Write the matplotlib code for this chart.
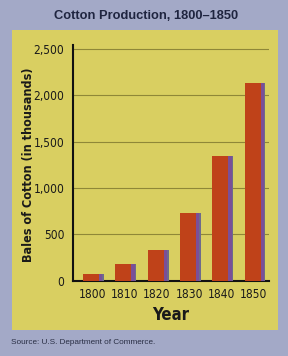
import matplotlib.pyplot as plt
from matplotlib.patches import Rectangle

# Data
years = ["1800", "1810", "1820", "1830", "1840", "1850"]
bales = [73, 178, 335, 732, 1348, 2133]   # thousands of bales
y_ticks = [0, 500, 1000, 1500, 2000, 2500]
y_labels = ["0", "500", "1,000", "1,500", "2,000", "2,500"]

# Colours
page_bg = "#a3a9c7"
panel_bg = "#d9cf61"
bar_red = "#bf4219"
bar_side = "#7a4f98"
bar_edge = "#6e6a8c"
grid_col = "#8f8738"
title_col = "#1f2540"

bold = ["Liberation Sans", "DejaVu Sans"]
cond = dict(family="DejaVu Sans", stretch="condensed", color="#1a1a1a")

fig = plt.figure(figsize=(2.88, 3.56), dpi=100, facecolor=page_bg)

# yellow panel behind the chart
fig.patches.append(Rectangle((12 / 288, 1 - 330 / 356), 266 / 288, 300 / 356,
                             transform=fig.transFigure, facecolor=panel_bg,
                             edgecolor="none", zorder=-5))

ax = fig.add_axes([72.7 / 288, 1 - 280.7 / 356, (269 - 72.7) / 288, (280.7 - 45) / 356])
ax.set_facecolor("none")

x = list(range(len(years)))
# front face, side face and a thin shaded edge
ax.bar([i - 0.035 for i in x], bales, width=0.5, color=bar_red, zorder=3)
ax.bar([i + 0.26 for i in x], bales, width=0.1, color=bar_side, zorder=3)
ax.bar([i + 0.335 for i in x], bales, width=0.05, color=bar_edge, zorder=3)

ax.set_xlim(-0.61, 5.47)
ax.set_ylim(0, 2540)
ax.set_yticks(y_ticks)
ax.set_yticklabels(y_labels, fontsize=8.6, **cond)
ax.set_xticks(x)
ax.set_xticklabels(years, fontsize=8.6, **cond)
ax.tick_params(axis="y", length=0, pad=6)
ax.tick_params(axis="x", length=0, pad=5)

for v in y_ticks[1:]:
    ax.axhline(v, color=grid_col, lw=0.8, zorder=1)

for s in ["top", "right"]:
    ax.spines[s].set_visible(False)
for s in ["left", "bottom"]:
    ax.spines[s].set_color("#111111")
    ax.spines[s].set_linewidth(1.5)

ax.set_ylabel("Bales of Cotton (in thousands)", fontweight="bold", fontsize=9, **cond)
ax.yaxis.set_label_coords(-0.19, 0.49)
ax.set_xlabel("Year", fontweight="bold", fontsize=12, labelpad=4, **cond)

fig.text(0.507, 1 - 16 / 356, "Cotton Production, 1800\u20131850", family=bold,
         fontweight="bold", fontsize=9.3, color=title_col, ha="center", va="center")
fig.text(11 / 288, 1 - 343 / 356, "Source: U.S. Department of Commerce.", family=bold,
         fontsize=5.9, color="#2a2f45", ha="left", va="center")

fig.savefig("out.png", dpi=100, facecolor=page_bg)
